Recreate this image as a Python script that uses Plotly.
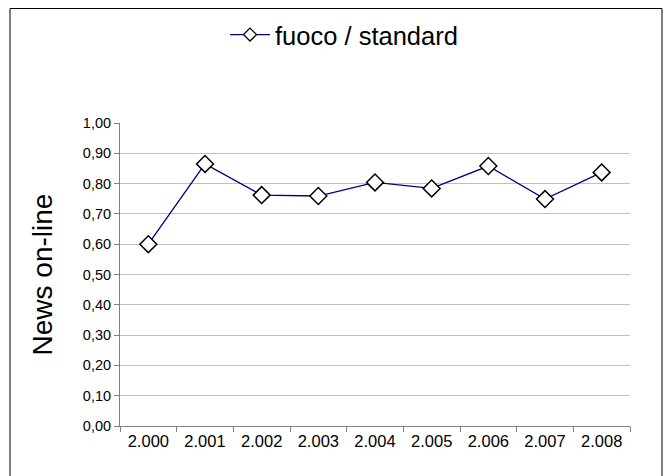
import plotly.graph_objects as go

years = ["2.000", "2.001", "2.002", "2.003", "2.004", "2.005", "2.006", "2.007", "2.008"]
values = [0.60, 0.865, 0.762, 0.759, 0.804, 0.784, 0.858, 0.749, 0.837]
y_ticks = [i / 10 for i in range(11)]
y_tick_labels = [f"{v:.2f}".replace(".", ",") for v in y_ticks]
series_name = "fuoco / standard"
y_title = "News on-line"

# page body has an 8px margin, so the figure is sized to the remaining area
W, H = 664, 468
L, R, T, B = 112, 42, 115, 50
pw, ph = W - L - R, H - T - B

line_style = dict(color="#000080", width=1.3)

fig = go.Figure()
fig.add_trace(go.Scatter(
    x=years, y=values, mode="lines+markers", name=series_name,
    line=line_style, showlegend=False,
    marker=dict(symbol="diamond", size=13, color="white",
                line=dict(color="black", width=1.5)),
))
# legend entry (smaller diamond, as in the reference legend)
fig.add_trace(go.Scatter(
    x=[None], y=[None], mode="lines+markers", name=series_name,
    line=line_style, showlegend=True, hoverinfo="skip",
    marker=dict(symbol="diamond", size=10, color="white",
                line=dict(color="black", width=1.3)),
))

fig.update_layout(
    width=W, height=H,
    margin=dict(l=L, r=R, t=T, b=B, autoexpand=False),
    paper_bgcolor="white", plot_bgcolor="white",
    font=dict(family="Liberation Sans, Arial, sans-serif", color="black", size=14),
    showlegend=True,
    legend=dict(orientation="h", xref="container", yref="container",
                x=336 / W, xanchor="center", y=1 - 27 / H, yanchor="middle",
                font=dict(size=25.5), bgcolor="rgba(0,0,0,0)", itemwidth=40),
    xaxis=dict(type="category", showgrid=False, showline=True, linecolor="#808080",
               linewidth=1, ticks="outside", tickson="boundaries", ticklen=5,
               tickcolor="#808080", tickfont=dict(size=16.5), range=[-0.5, 8.5],
               automargin=False),
    yaxis=dict(range=[0, 1.0], tickvals=y_ticks, ticktext=y_tick_labels,
               showgrid=True, gridcolor="#c0c0c0", gridwidth=1,
               showline=True, linecolor="#808080", linewidth=1,
               ticks="outside", ticklen=5, tickcolor="#808080",
               tickfont=dict(size=14.5), zeroline=False, automargin=False,
               title=dict(text=y_title, font=dict(size=28), standoff=22)),
    shapes=[dict(type="rect", xref="paper", yref="paper",
                 x0=(2 - L) / pw, x1=(654 - L) / pw,
                 y0=-(H + 10 - (T + ph)) / ph, y1=(T + ph - 0.5) / ph,
                 line=dict(color="black", width=1), fillcolor="rgba(0,0,0,0)",
                 layer="below")],
)

fig.write_html("out.html")
